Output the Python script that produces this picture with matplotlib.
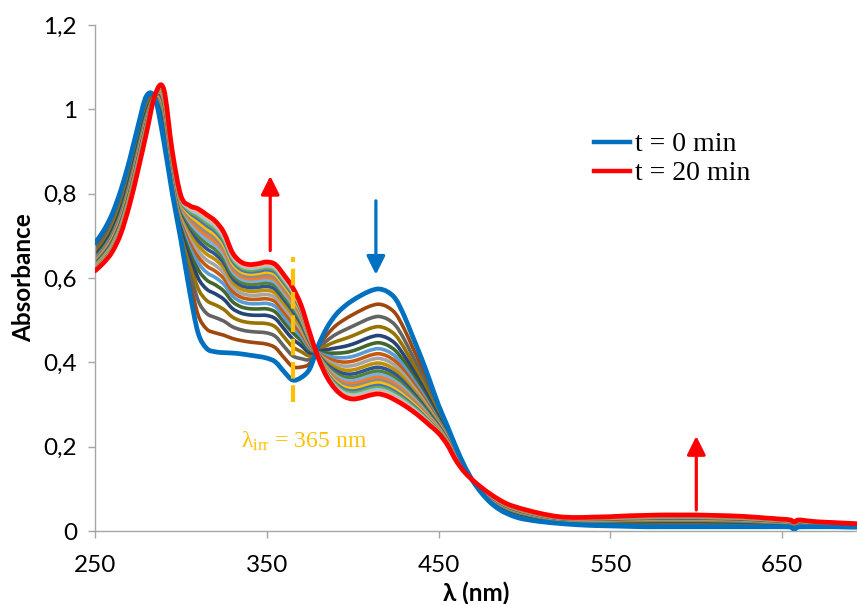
import numpy as np
import matplotlib
matplotlib.use('Agg')
import matplotlib.pyplot as plt
from matplotlib.lines import Line2D
from matplotlib.path import Path
from matplotlib.patches import PathPatch
from matplotlib.ticker import FuncFormatter, FixedLocator

# ---------------- data ----------------
wavelengths = [250, 255, 260, 265, 270, 275, 280, 285, 290, 295,
               300, 305, 310, 315, 320, 325, 330, 335, 340, 345,
               350, 355, 360, 365, 370, 375, 380, 385, 390, 395,
               400, 405, 410, 415, 420, 425, 430, 435, 440, 445,
               450, 455, 460, 465, 470, 475, 480, 485, 490, 495,
               500, 510, 520, 530, 540, 550, 560, 570, 580, 590,
               600, 610, 620, 630, 640, 650, 655, 657, 659, 665,
               670, 680, 690, 700]

abs_t0 = [0.683, 0.712, 0.752, 0.808, 0.878, 0.960, 1.032, 1.025, 0.925, 0.800,
          0.690, 0.570, 0.470, 0.433, 0.425, 0.423, 0.422, 0.420, 0.417, 0.414,
          0.410, 0.401, 0.378, 0.358, 0.364, 0.385, 0.440, 0.482, 0.512, 0.532,
          0.547, 0.559, 0.569, 0.574, 0.568, 0.550, 0.510, 0.460, 0.410, 0.355,
          0.298, 0.250, 0.200, 0.155, 0.118, 0.090, 0.068, 0.052, 0.041, 0.033,
          0.028, 0.022, 0.018, 0.015, 0.013, 0.012, 0.011, 0.010, 0.010, 0.010,
          0.010, 0.010, 0.010, 0.010, 0.010, 0.010, 0.009, 0.004, 0.009, 0.010,
          0.010, 0.010, 0.009, 0.009]

abs_t20 = [0.617, 0.636, 0.662, 0.705, 0.772, 0.855, 0.945, 1.035, 1.048, 0.900,
           0.795, 0.772, 0.764, 0.750, 0.735, 0.708, 0.660, 0.638, 0.632, 0.634,
           0.638, 0.632, 0.607, 0.578, 0.535, 0.470, 0.410, 0.365, 0.336, 0.319,
           0.313, 0.316, 0.322, 0.325, 0.320, 0.310, 0.298, 0.284, 0.268, 0.250,
           0.232, 0.205, 0.168, 0.140, 0.120, 0.103, 0.088, 0.075, 0.064, 0.057,
           0.051, 0.041, 0.034, 0.032, 0.033, 0.034, 0.036, 0.037, 0.038, 0.038,
           0.038, 0.037, 0.036, 0.034, 0.031, 0.028, 0.026, 0.021, 0.026, 0.024,
           0.022, 0.020, 0.018, 0.016]

# absorbance at 415 nm of every recorded spectrum, t = 0 ... 20 min
a415_readings = [0.573, 0.537, 0.508, 0.484, 0.463, 0.446, 0.432, 0.420, 0.409,
                 0.398, 0.388, 0.379, 0.371, 0.364, 0.357, 0.351, 0.345, 0.340,
                 0.335, 0.330, 0.325]

intermediate_colors = ['#9E480E', '#636363', '#997300', '#264478', '#43682B',
                       '#5B9BD5', '#C55A11', '#A5A5A5', '#BF9000', '#2F5597',
                       '#548235', '#7CAFDD', '#ED7D31', '#8C8C8C', '#FFC000',
                       '#4472C4', '#70AD47', '#9DC3E6', '#F4B183']

legend_labels = ['t = 0 min', 't = 20 min']
irr_wavelength = 365
y_ticks = [0, 0.2, 0.4, 0.6, 0.8, 1.0, 1.2]
x_ticks = [250, 350, 450, 550, 650]

# ---------------- helpers ----------------
def smooth_line(ax, x, y, **kw):
    """Draw a smooth (cubic Hermite / Bezier) line through the data points."""
    x = np.asarray(x, float)
    y = np.asarray(y, float)
    n = len(x)
    slopes = np.empty(n)
    slopes[0] = (y[1] - y[0]) / (x[1] - x[0])
    slopes[-1] = (y[-1] - y[-2]) / (x[-1] - x[-2])
    slopes[1:-1] = (y[2:] - y[:-2]) / (x[2:] - x[:-2])
    verts = [(x[0], y[0])]
    codes = [Path.MOVETO]
    for i in range(n - 1):
        h = x[i + 1] - x[i]
        verts += [(x[i] + h / 3, y[i] + slopes[i] * h / 3),
                  (x[i + 1] - h / 3, y[i + 1] - slopes[i + 1] * h / 3),
                  (x[i + 1], y[i + 1])]
        codes += [Path.CURVE4] * 3
    patch = PathPatch(Path(verts, codes), fill=False, capstyle='round',
                      joinstyle='round', **kw)
    ax.add_patch(patch)
    return patch

# ---------------- figure ----------------
W, H = 857, 604
fig = plt.figure(figsize=(W / 100, H / 100), dpi=100)
ax = fig.add_axes([95 / W, (H - 531) / H, (W - 95) / W, 506 / H])

wl = np.array(wavelengths)
a0 = np.array(abs_t0)
a20 = np.array(abs_t20)
span = a415_readings[0] - a415_readings[-1]

for k in range(1, len(a415_readings) - 1):
    f = (a415_readings[0] - a415_readings[k]) / span
    smooth_line(ax, wl, a0 + f * (a20 - a0), edgecolor=intermediate_colors[k - 1],
                lw=2.6, zorder=2)

blue = '#0070C0'
red = '#FF0000'
smooth_line(ax, wl, a0, edgecolor=blue, lw=3.4, zorder=3)
smooth_line(ax, wl, a20, edgecolor=red, lw=3.4, zorder=4)

# irradiation wavelength marker
gold = '#FFC000'
ax.plot([irr_wavelength, irr_wavelength], [0.305, 0.65], color=gold, lw=3.0,
        dashes=(4.0, 1.6), zorder=5)
plt.rcParams['mathtext.fontset'] = 'custom'
plt.rcParams['mathtext.rm'] = 'Liberation Serif'
plt.rcParams['mathtext.it'] = 'Liberation Serif:italic'
ax.text(371.6, 0.213, r'$\mathrm{\lambda_{irr}}$ = 365 nm', color=gold,
        family='Liberation Serif', fontsize=17, ha='center', va='center')

# arrows
def arrow(x, y0, y1, color):
    ax.annotate('', xy=(x, y1), xytext=(x, y0),
                arrowprops=dict(arrowstyle='-|>,head_length=0.8,head_width=0.4',
                                color=color, lw=2.3, mutation_scale=14,
                                shrinkA=0, shrinkB=0), zorder=6)

arrow(352, 0.665, 0.842, red)
arrow(413.5, 0.783, 0.608, blue)
arrow(600, 0.05, 0.225, red)

# legend
handles = [Line2D([], [], color=blue, lw=3.2), Line2D([], [], color=red, lw=3.2)]
ax.legend(handles, legend_labels, loc='upper left',
          bbox_to_anchor=(594 / W, (H - 132) / H), bbox_transform=fig.transFigure,
          frameon=False, prop={'family': 'Liberation Serif', 'size': 20},
          handlelength=1.3, handletextpad=0.18, labelspacing=0.12,
          borderaxespad=0, borderpad=0)

# axes styling
ax.set_xlim(250, 250 + (W - 95) / 171.8 * 100)
ax.set_ylim(0, 1.2)
ax.xaxis.set_major_locator(FixedLocator(x_ticks))
ax.yaxis.set_major_locator(FixedLocator(y_ticks))
ax.yaxis.set_major_formatter(FuncFormatter(
    lambda v, p: ('%g' % round(v, 1)).replace('.', ',')))
for s in ['top', 'right']:
    ax.spines[s].set_visible(False)
for s in ['left', 'bottom']:
    ax.spines[s].set_color('#A6A6A6')
    ax.spines[s].set_linewidth(1.0)
ax.tick_params(axis='both', direction='out', length=5, width=1.0, color='#A6A6A6',
               labelsize=17.5, labelcolor='black')
ax.tick_params(axis='x', pad=12)
ax.tick_params(axis='y', pad=8)
for lab in ax.get_xticklabels() + ax.get_yticklabels():
    lab.set_family('Lato')

ax.set_xlabel('λ (nm)', family='Lato', fontweight='bold', fontsize=17.5, labelpad=4)
ax.set_ylabel('Absorbance', family='Lato', fontweight='bold', fontsize=17.5, labelpad=6)

fig.savefig('out.png', dpi=100)
